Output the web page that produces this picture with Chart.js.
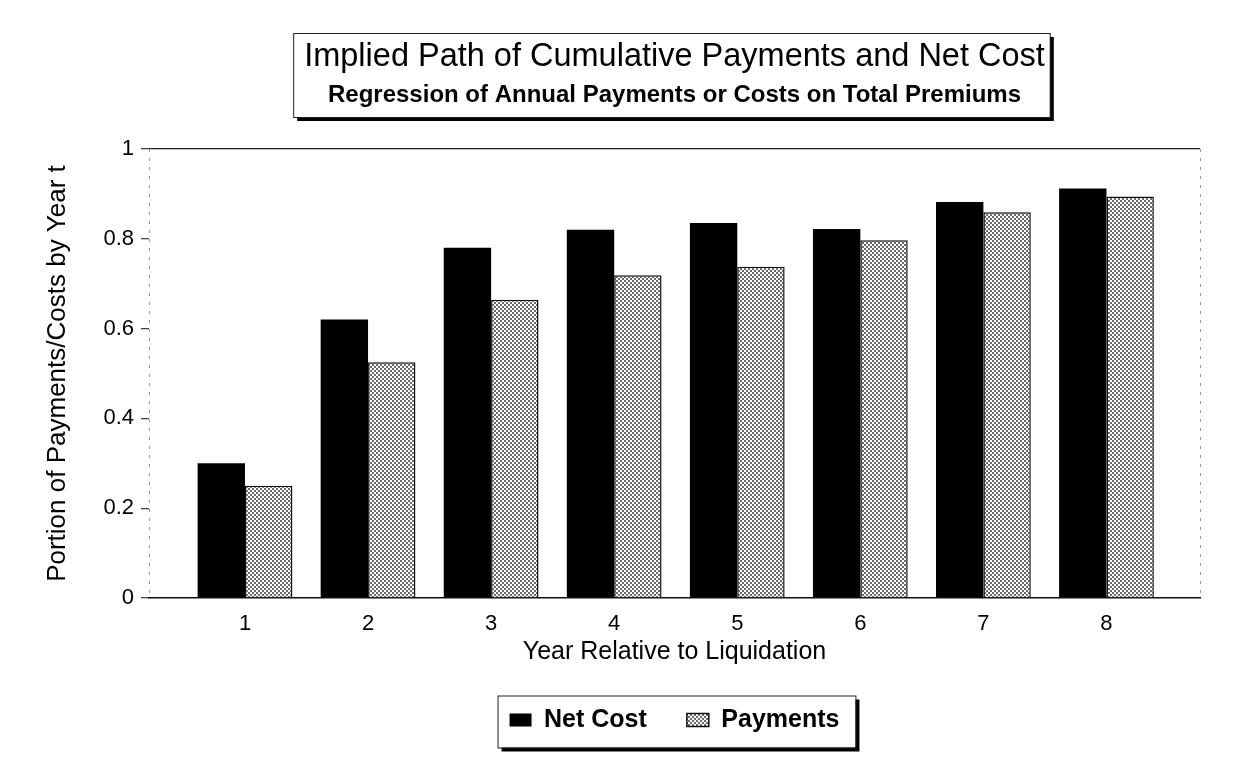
<!DOCTYPE html>
<html>
<head>
<meta charset="utf-8">
<script src="https://cdn.jsdelivr.net/npm/chart.js@4"></script>
<style>
  body { margin: 0; background: #fff; }
  #wrap { width: 1246px; height: 764px; }
</style>
</head>
<body>
<div id="wrap"><canvas id="chart" width="1246" height="764"></canvas></div>
<script>
// values
var years = [1, 2, 3, 4, 5, 6, 7, 8];
var netCost = [0.30, 0.62, 0.78, 0.82, 0.835, 0.822, 0.882, 0.912];
var payments = [0.25, 0.525, 0.664, 0.719, 0.738, 0.797, 0.859, 0.894];
var yTicks = [0, 0.2, 0.4, 0.6, 0.8, 1];

var FONT = "'Liberation Sans', Arial, sans-serif";

// dotted grey fill like the printed original
function dotPattern() {
  var c = document.createElement('canvas');
  c.width = 4; c.height = 4;
  var g = c.getContext('2d');
  g.fillStyle = '#fff';
  g.fillRect(0, 0, 4, 4);
  g.fillStyle = '#6a6a6a';
  g.fillRect(0, 0, 2, 2);
  g.fillRect(2, 2, 2, 2);
  return g.createPattern(c, 'repeat');
}
var dots = dotPattern();

function shadowBox(ctx, x, y, w, h) {
  ctx.save();
  ctx.fillStyle = '#000';
  ctx.fillRect(x + 4, y + 4, w, h);
  ctx.fillStyle = '#fff';
  ctx.fillRect(x, y, w, h);
  ctx.strokeStyle = '#222';
  ctx.lineWidth = 1;
  ctx.strokeRect(x + 0.5, y + 0.5, w, h);
  ctx.restore();
}

function dashedLine(ctx, x, y0, y1) {
  ctx.save();
  ctx.strokeStyle = '#999';
  ctx.setLineDash([3, 6]);
  ctx.beginPath();
  ctx.moveTo(x + 0.5, y0);
  ctx.lineTo(x + 0.5, y1);
  ctx.stroke();
  ctx.restore();
}

var frames = {
  id: 'frames',
  beforeDraw: function(chart) {
    var ctx = chart.ctx;
    var t = chart.options.plugins.title;
    var s = chart.options.plugins.subtitle;
    var tb = chart.titleBlock;
    ctx.save();
    ctx.font = t.font.size + 'px ' + FONT;
    var w1 = ctx.measureText(t.text).width;
    ctx.font = 'bold ' + s.font.size + 'px ' + FONT;
    var w2 = ctx.measureText(s.text).width;
    ctx.restore();
    var w = Math.max(w1, w2) + 16;
    var cx = (chart.chartArea.left + chart.chartArea.right) / 2 - 3;
    shadowBox(ctx, cx - w / 2, tb.top + t.padding.top - 5, w, 84);

    var hb = chart.legend.legendHitBoxes;
    var last = hb[hb.length - 1];
    var l = hb[0].left - 12, r = last.left + last.width + 16;
    shadowBox(ctx, l, hb[0].top - 12, r - l, 52);
  },
  afterDraw: function(chart) {
    var a = chart.chartArea;
    dashedLine(chart.ctx, a.left, a.top, a.bottom);
    dashedLine(chart.ctx, a.right, a.top, a.bottom);
  }
};

new Chart(document.getElementById('chart'), {
  type: 'bar',
  data: {
    datasets: [{
      label: 'Net Cost',
      data: years.map(function(y, i) { return { x: y, y: netCost[i] }; }),
      backgroundColor: '#000',
      borderColor: '#000',
      borderWidth: 0
    }, {
      label: 'Payments',
      data: years.map(function(y, i) { return { x: y, y: payments[i] }; }),
      backgroundColor: dots,
      borderColor: '#111',
      borderWidth: 1.5
    }]
  },
  options: {
    responsive: false,
    animation: false,
    layout: { padding: { left: 0, right: 46, top: 0, bottom: 21.5 } },
    datasets: { bar: { barPercentage: 1, categoryPercentage: 0.77 } },
    scales: {
      x: {
        type: 'linear',
        offset: false,
        min: 0.22,
        max: 8.76,
        afterBuildTicks: function(axis) {
          axis.ticks = years.map(function(v) { return { value: v }; });
        },
        afterFit: function(axis) { axis.height = 69.5; },
        grid: { display: false, offset: false },
        border: { display: true, color: '#111', width: 1.5 },
        ticks: { color: '#000', padding: 5, font: { family: FONT, size: 22 } },
        title: {
          display: true, text: 'Year Relative to Liquidation', color: '#000',
          font: { family: FONT, size: 25 }, padding: { top: 0, bottom: 0 }
        }
      },
      y: {
        min: 0,
        max: 1,
        afterBuildTicks: function(axis) {
          axis.ticks = yTicks.map(function(v) { return { value: v }; });
        },
        afterFit: function(axis) { axis.width = 149; },
        grid: {
          drawOnChartArea: true,
          color: function(c) { return c.tick && c.tick.value === 1 ? '#222' : 'rgba(0,0,0,0)'; },
          tickColor: '#444',
          tickLength: 8,
          lineWidth: 1.3
        },
        border: { display: false },
        ticks: {
          color: '#000', padding: 7, font: { family: FONT, size: 22 },
          callback: function(v) { return String(v); }
        },
        title: {
          display: true, text: 'Portion of Payments/Costs by Year t', color: '#000',
          font: { family: FONT, size: 26 }, padding: { top: 42, bottom: 0 }
        }
      }
    },
    plugins: {
      title: {
        display: true, fullSize: false,
        text: 'Implied Path of Cumulative Payments and Net Cost',
        color: '#000', font: { family: FONT, size: 32.5, weight: 'normal' },
        padding: { top: 38, bottom: 4 }
      },
      subtitle: {
        display: true, fullSize: false,
        text: 'Regression of Annual Payments or Costs on Total Premiums',
        color: '#000', font: { family: FONT, size: 24, weight: 'bold' },
        padding: { top: 0, bottom: 39.2 }
      },
      legend: {
        position: 'bottom', fullSize: false,
        labels: {
          color: '#000', boxWidth: 22, boxHeight: 13, padding: 40,
          font: { family: FONT, size: 25, weight: 'bold' }
        }
      },
      tooltip: { enabled: false }
    }
  },
  plugins: [frames]
});
</script>
</body>
</html>
